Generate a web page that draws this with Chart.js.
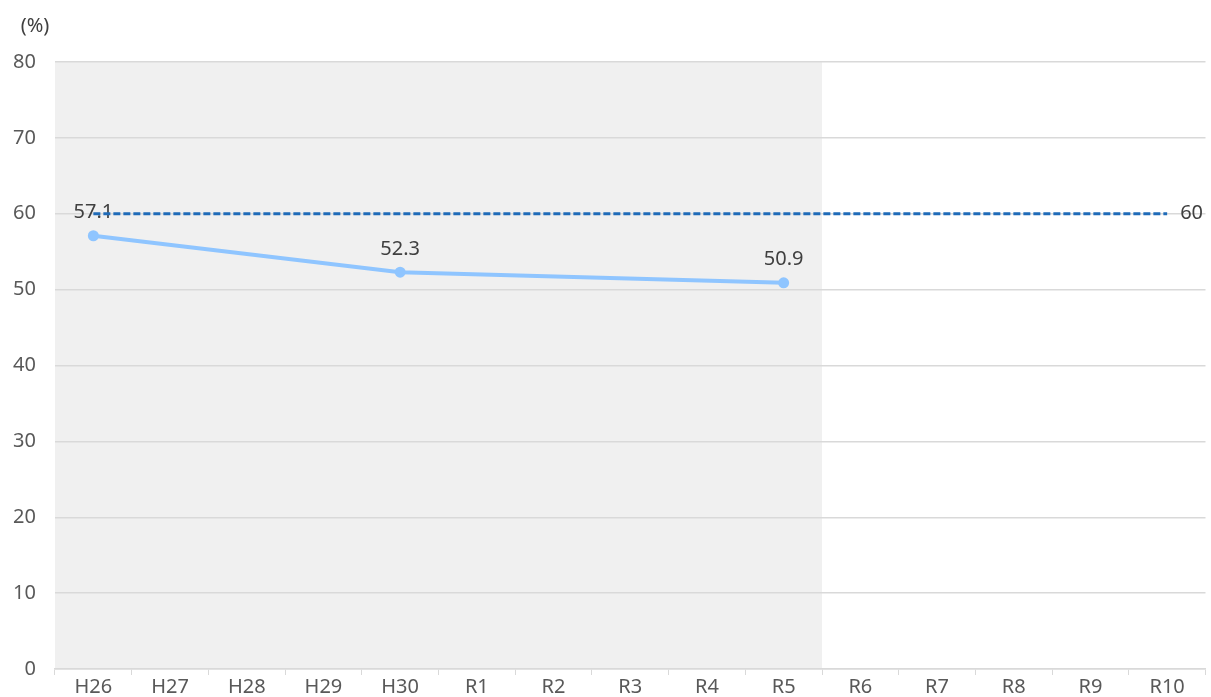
<!DOCTYPE html>
<html>
<head>
<meta charset="utf-8">
<script src="https://cdn.jsdelivr.net/npm/chart.js@4/dist/chart.umd.min.js"></script>
<style>
  html, body { margin: 0; padding: 0; background: #fff; }
  #wrap { width: 1211px; height: 697px; }
</style>
</head>
<body>
<div id="wrap"><canvas id="c" width="1211" height="697"></canvas></div>
<script>
// ── Data ──────────────────────────────────────────────────────────
const YEARS  = ["H26", "H27", "H28", "H29", "H30", "R1", "R2", "R3", "R4", "R5", "R6", "R7", "R8", "R9", "R10"];
const ACTUAL = [57.1, null, null, null, 52.3, null, null, null, null, 50.9, null, null, null, null, null];
const TARGET = [60, 60, 60, 60, 60, 60, 60, 60, 60, 60, 60, 60, 60, 60, 60];
const Y_TICKS = [0, 10, 20, 30, 40, 50, 60, 70, 80];
const SHADE_UNTIL = "R5";   // past results shaded up to here
const UNIT = "(%)";

const FONT = "'Noto Sans', 'Noto Sans CJK JP', sans-serif";
const TEXT = "#595959";
const GRID = "#d9d9d9";

// ── Plugins ───────────────────────────────────────────────────────
const shadePlugin = {
  id: "shade",
  beforeDraw(chart) {
    const { ctx, chartArea: a, scales: { x } } = chart;
    const i = YEARS.indexOf(SHADE_UNTIL);
    const right = (x.getPixelForValue(i) + x.getPixelForValue(i + 1)) / 2;
    ctx.save();
    ctx.fillStyle = "#f0f0f0";
    ctx.fillRect(a.left, a.top, right - a.left, a.bottom - a.top);
    ctx.restore();
  },
};

const labelPlugin = {
  id: "labels",
  afterDatasetDraw(chart, args) {
    const { ctx } = chart;
    ctx.save();
    ctx.font = "20px " + FONT;
    ctx.fillStyle = "#404040";
    ctx.textBaseline = "middle";
    if (args.index === 0) {
      const meta = chart.getDatasetMeta(0);
      ACTUAL.forEach((v, i) => {
        if (v == null) return;
        const p = meta.data[i];
        ctx.textAlign = "center";
        ctx.fillText(v.toFixed(1), p.x, p.y - 23);
      });
    } else if (args.index === 1) {
      const meta = chart.getDatasetMeta(1);
      const last = TARGET.length - 1;
      const p = meta.data[last];
      ctx.textAlign = "left";
      ctx.fillText(String(TARGET[last]), p.x + 13, p.y);
    }
    ctx.restore();
  },
  afterDraw(chart) {
    const { ctx, chartArea: a } = chart;
    ctx.save();
    ctx.font = "20px " + FONT;
    ctx.fillStyle = "#404040";
    ctx.textAlign = "center";
    ctx.textBaseline = "middle";
    ctx.fillText(UNIT, a.left - 20, a.top - 36);
    ctx.restore();
  },
};

// ── Chart ─────────────────────────────────────────────────────────
new Chart(document.getElementById("c"), {
  type: "line",
  data: {
    labels: YEARS,
    datasets: [
      {
        data: ACTUAL,
        spanGaps: true,
        borderColor: "#8fc5ff",
        backgroundColor: "#8fc5ff",
        borderWidth: 4,
        pointRadius: 5.5,
        pointBorderWidth: 0,
        tension: 0,
        order: 1,
      },
      {
        data: TARGET,
        borderColor: "#1f6bb8",
        borderWidth: 3,
        borderDash: [7, 3],
        pointRadius: 0,
        order: 0,
      },
    ],
  },
  options: {
    responsive: false,
    animation: false,
    layout: { padding: { top: 62, right: 0, left: 0, bottom: 0 } },
    plugins: {
      legend: { display: false },
      tooltip: { enabled: false },
    },
    scales: {
      x: {
        offset: true,
        border: { color: GRID, width: 1.5 },
        grid: { display: true, drawOnChartArea: false, color: GRID, tickLength: 6, offset: true },
        ticks: { color: TEXT, font: { family: FONT, size: 20 }, padding: 0, maxRotation: 0, autoSkip: false },
        afterFit(s) { s.height = 28; s.paddingLeft = 0; s.paddingRight = 0; },
      },
      y: {
        min: 0,
        max: 80,
        afterBuildTicks(s) { s.ticks = Y_TICKS.map((v) => ({ value: v })); },
        border: { display: false },
        grid: { color: GRID, lineWidth: 1.5, drawTicks: false },
        ticks: { color: TEXT, font: { family: FONT, size: 20 }, padding: 19 },
        afterFit(s) { s.width = 55; s.paddingTop = 0; s.paddingBottom = 0; },
      },
    },
  },
  plugins: [shadePlugin, labelPlugin],
});
</script>
</body>
</html>
